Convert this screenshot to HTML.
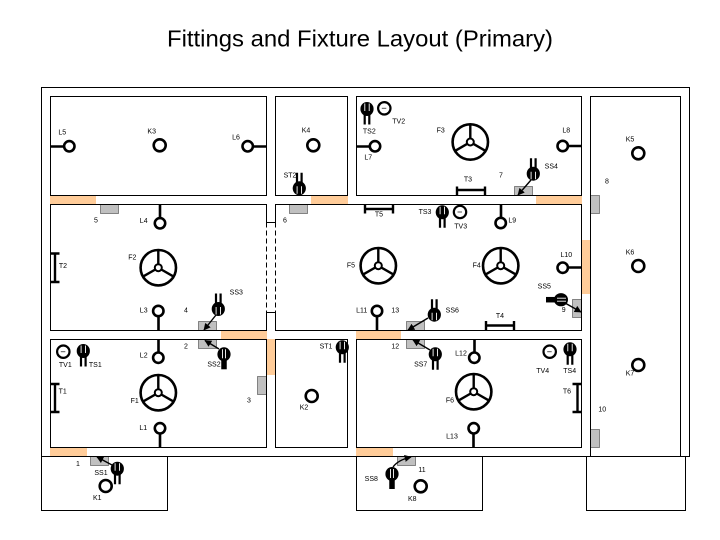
<!DOCTYPE html>
<html><head><meta charset="utf-8"><title>Fittings and Fixture Layout (Primary)</title>
<style>html,body{margin:0;padding:0;background:#fff}svg{display:block}
text{font-family:"Liberation Sans",Arial,sans-serif;font-size:7px;text-anchor:middle;fill:#000;dominant-baseline:central}
.w{fill:none;stroke:#000;stroke-width:1}
.o{fill:#FFCC99;stroke:none}
.g{fill:#C0C0C0;stroke:#444;stroke-width:.6}
.l{fill:#fff;stroke:#000;stroke-width:2.6}
.s{stroke:#000;stroke-width:2.4;fill:none}
.b{stroke:#000;stroke-width:2.6;fill:none}
.a{stroke:#000;stroke-width:1.4;fill:none;marker-end:url(#ah)}
</style></head><body>
<svg width="720" height="540" viewBox="0 0 720 540" xmlns="http://www.w3.org/2000/svg">
<defs>
<marker id="ah" viewBox="0 0 10 10" refX="9" refY="5" markerWidth="5" markerHeight="5" orient="auto"><path d="M0 0L10 5L0 10Z" fill="#000"/></marker>
<g id="fan"><circle r="17.7" fill="#fff" stroke="#000" stroke-width="2.6"/><path d="M0-3.5V-17.7M3 1.8L15.3 8.9M-3 1.8L-15.3 8.9" stroke="#000" stroke-width="2.4"/><circle r="3.5" fill="#fff" stroke="#000" stroke-width="2"/></g>
<g id="sw"><ellipse rx="6.6" ry="7" fill="#000"/><path d="M-2.2-5.5V5.5M2.2-5.5V5.5" stroke="#fff" stroke-width=".9"/><path d="M-2.3 2V15.5M2.3 2V15.5" stroke="#000" stroke-width="2.2"/></g>
<g id="sw2"><ellipse rx="6.6" ry="7" fill="#000"/><path d="M-1.5-5V5M1.5-5V5" stroke="#fff" stroke-width=".9"/><path d="M0 4V15" stroke="#000" stroke-width="5.5"/></g>
<g id="tv"><circle r="6.2" fill="#fff" stroke="#000" stroke-width="2.2"/><path d="M-2.5 0H2" stroke="#555" stroke-width="1"/></g>
</defs>
<rect width="720" height="540" fill="#fff"/>
<text x="360" y="38.500" style="font-size:23px" textLength="386" lengthAdjust="spacingAndGlyphs">Fittings and Fixture Layout (Primary)</text>

<rect class="o" x="50" y="196" width="46" height="9"/>
<rect class="o" x="311" y="196" width="37" height="9"/>
<rect class="o" x="536" y="196" width="46" height="9"/>
<rect class="o" x="221" y="331" width="46" height="9"/>
<rect class="o" x="356" y="331" width="45" height="9"/>
<rect class="o" x="266" y="339" width="10" height="36"/>
<rect class="o" x="581" y="240" width="10" height="54"/>
<rect class="o" x="50" y="448" width="37" height="9"/>
<rect class="o" x="356" y="448" width="37" height="9"/>

<rect class="g" x="100.5" y="204.5" width="18" height="9"/>
<rect class="g" x="289.5" y="204.5" width="18" height="9"/>
<rect class="g" x="514.5" y="186.5" width="18" height="9"/>
<rect class="g" x="590.5" y="195.5" width="9" height="18"/>
<rect class="g" x="198.5" y="321.5" width="18" height="9"/>
<rect class="g" x="198.5" y="339.5" width="18" height="9"/>
<rect class="g" x="406.5" y="321.5" width="18" height="9"/>
<rect class="g" x="406.5" y="339.5" width="18" height="9"/>
<rect class="g" x="572.5" y="299.5" width="9" height="18"/>
<rect class="g" x="257.5" y="376.5" width="9" height="18"/>
<rect class="g" x="590.5" y="429.5" width="9" height="18"/>
<rect class="g" x="90.5" y="456.5" width="18" height="9"/>
<rect class="g" x="397.5" y="456.5" width="18" height="9"/>

<rect class="w" x="41.5" y="87.5" width="648" height="369"/>
<rect class="w" x="50.5" y="96.5" width="216" height="99"/>
<rect class="w" x="275.5" y="96.5" width="72" height="99"/>
<rect class="w" x="356.5" y="96.5" width="225" height="99"/>
<rect class="w" x="590.5" y="96.5" width="90" height="360"/>
<path class="w" d="M266.5 222.5V204.5H50.5V330.5H266.5V312.5H275.5V330.5H581.5V204.5H275.5V222.5H266.5"/>
<path class="w" stroke-dasharray="5 3" d="M266.5 222.5V312.5M275.5 222.5V312.5"/>
<rect class="w" x="50.5" y="339.5" width="216" height="108"/>
<rect class="w" x="275.5" y="339.5" width="72" height="108"/>
<rect class="w" x="356.5" y="339.5" width="225" height="108"/>
<rect class="w" x="41.5" y="456.5" width="126" height="54"/>
<rect class="w" x="356.5" y="456.5" width="126" height="54"/>
<rect class="w" x="586.5" y="456.5" width="99" height="54"/>

<path class="b" d="M51 146.5H64M253 146.5H266M357 146.5H370M568 146H581M160 205V218M501 205V218M158.5 316V330M158.5 340V352M377 316V330M474.5 340V352M568 267.5H581M160 433V447M473.5 433V447"/>
<circle class="l" cx="69.3" cy="146.3" r="5.2"/>
<circle class="l" cx="159.7" cy="145.3" r="6"/>
<circle class="l" cx="247.7" cy="146.3" r="5.2"/>
<circle class="l" cx="313.3" cy="145.3" r="6"/>
<circle class="l" cx="375" cy="146.3" r="5.2"/>
<circle class="l" cx="562.7" cy="146" r="5.2"/>
<circle class="l" cx="638.3" cy="153.3" r="6"/>
<circle class="l" cx="160" cy="223.3" r="5.2"/>
<circle class="l" cx="500.7" cy="223" r="5.2"/>
<circle class="l" cx="158.3" cy="311" r="5.2"/>
<circle class="l" cx="158.3" cy="357.7" r="5.2"/>
<circle class="l" cx="377" cy="311" r="5.2"/>
<circle class="l" cx="474.3" cy="357.7" r="5.2"/>
<circle class="l" cx="562.7" cy="267.7" r="5.2"/>
<circle class="l" cx="638.3" cy="266" r="6"/>
<circle class="l" cx="638.3" cy="365" r="6"/>
<circle class="l" cx="160" cy="428.3" r="5.2"/>
<circle class="l" cx="473.7" cy="428.3" r="5.2"/>
<circle class="l" cx="105.7" cy="486" r="6"/>
<circle class="l" cx="311.7" cy="396" r="6"/>
<circle class="l" cx="420.7" cy="486.3" r="6"/>

<use href="#fan" x="470.3" y="142"/>
<use href="#fan" x="158.3" y="267.7"/>
<use href="#fan" x="378.3" y="265.7"/>
<use href="#fan" x="500.7" y="265.7"/>
<use href="#fan" x="158.3" y="392.7"/>
<use href="#fan" x="473.7" y="391.7"/>

<path class="s" d="M457 190H485M457 186.5V195M485 186.5V195"/>
<path class="s" d="M365 209H393M365 204.5V213.5M393 204.5V213.5"/>
<path class="s" d="M486 325.5H514M486 321V330M514 321V330"/>
<path class="s" d="M55 253.5V282M50.5 253.5H59.5M50.5 282H59.5"/>
<path class="s" d="M55 384V412M50.5 384H59.5M50.5 412H59.5"/>
<path class="s" d="M577.5 384V412M572.5 384H581.5M572.5 412H581.5"/>

<use href="#sw" x="367" y="109"/>
<use href="#sw" transform="translate(299.3 188.3) rotate(180)"/>
<use href="#sw" x="442.3" y="212.3"/>
<use href="#sw" transform="translate(533.3 173.7) rotate(180)"/>
<use href="#sw" transform="translate(218.3 309) rotate(180)"/>
<use href="#sw2" x="224" y="354.3"/>
<use href="#sw" x="83.3" y="351"/>
<use href="#sw" transform="translate(434.3 314.7) rotate(180)"/>
<use href="#sw" x="435.3" y="354.3"/>
<use href="#sw" x="342.3" y="347.3"/>
<use href="#sw" x="570" y="349.3"/>
<use href="#sw2" transform="translate(561 299.7) rotate(90)"/>
<use href="#sw" x="117.3" y="468.7"/>
<use href="#sw2" x="392" y="474"/>

<use href="#tv" x="384.3" y="108.3"/>
<use href="#tv" x="63.3" y="351.7"/>
<use href="#tv" x="460" y="212"/>
<use href="#tv" x="549.7" y="351.7"/>

<path class="a" d="M531 180L518 195"/>
<path class="a" d="M216 315L204 330"/>
<path class="a" d="M219 349L205 340.5"/>
<path class="a" d="M428 318L408 330"/>
<path class="a" d="M430 350L413 340"/>
<path class="a" d="M565 303L581 312"/>
<path class="a" d="M112 465L97 457"/>
<path class="a" d="M393 467Q398 460 411 457"/>

<text x="62.3" y="133">L5</text>
<text x="151.7" y="132">K3</text>
<text x="236" y="138">L6</text>
<text x="96" y="221">5</text>
<text x="143.7" y="221.3">L4</text>
<text x="306" y="131">K4</text>
<text x="398.7" y="122">TV2</text>
<text x="369.3" y="132">TS2</text>
<text x="440.7" y="131">F3</text>
<text x="368.3" y="158">L7</text>
<text x="290" y="176">ST2</text>
<text x="468" y="180">T3</text>
<text x="379" y="215">T5</text>
<text x="425" y="212.3">TS3</text>
<text x="460.7" y="227">TV3</text>
<text x="285" y="221">6</text>
<text x="566.3" y="131">L8</text>
<text x="630" y="140">K5</text>
<text x="551.3" y="167">SS4</text>
<text x="501" y="176">7</text>
<text x="607" y="182">8</text>
<text x="512.3" y="221">L9</text>
<text x="132.3" y="258">F2</text>
<text x="63" y="266.3">T2</text>
<text x="143.7" y="311">L3</text>
<text x="186" y="311">4</text>
<text x="236.3" y="293">SS3</text>
<text x="186" y="347">2</text>
<text x="143.7" y="356">L2</text>
<text x="65.3" y="365.3">TV1</text>
<text x="95.3" y="365.3">TS1</text>
<text x="214" y="365">SS2</text>
<text x="351" y="266">F5</text>
<text x="476.7" y="266">F4</text>
<text x="361.7" y="311">L11</text>
<text x="395.3" y="311">13</text>
<text x="452.3" y="311">SS6</text>
<text x="395.3" y="347">12</text>
<text x="326" y="347">ST1</text>
<text x="420.7" y="365">SS7</text>
<text x="461" y="354">L12</text>
<text x="566.3" y="255.3">L10</text>
<text x="630" y="253">K6</text>
<text x="544.3" y="287">SS5</text>
<text x="563.7" y="310.7">9</text>
<text x="500" y="316.3">T4</text>
<text x="542.7" y="371.3">TV4</text>
<text x="569.7" y="371.3">TS4</text>
<text x="630" y="374">K7</text>
<text x="62.7" y="392">T1</text>
<text x="134.7" y="401.3">F1</text>
<text x="249" y="401">3</text>
<text x="143.3" y="428.3">L1</text>
<text x="78" y="464.7">1</text>
<text x="101" y="473.3">SS1</text>
<text x="97.3" y="498.3">K1</text>
<text x="304" y="408">K2</text>
<text x="450" y="401">F6</text>
<text x="452" y="437">L13</text>
<text x="371.3" y="479.3">SS8</text>
<text x="422" y="470.3">11</text>
<text x="412.3" y="499.3">K8</text>
<text x="567" y="392">T6</text>
<text x="602.3" y="410">10</text>
</svg>
</body></html>
